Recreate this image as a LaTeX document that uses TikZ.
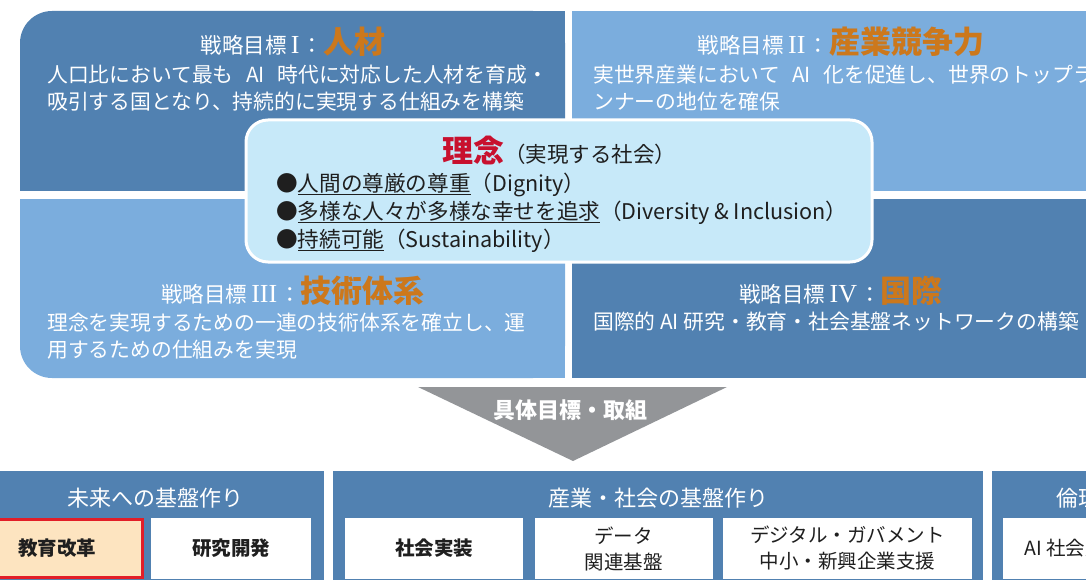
\documentclass[tikz,border=0pt]{standalone}
\usepackage{fontspec}
\setmainfont{Noto Sans CJK JP}
\newfontfamily\romanfont{Liberation Serif}
\usetikzlibrary{positioning}

\definecolor{deepblue}{RGB}{81,129,177}
\definecolor{paleblue}{RGB}{123,173,221}
\definecolor{ideabg}{RGB}{199,233,249}
\definecolor{goalorange}{RGB}{204,120,28}
\definecolor{ideared}{RGB}{200,16,46}
\definecolor{arrowgray}{RGB}{147,149,152}
\definecolor{edupeach}{RGB}{253,228,192}
\definecolor{edured}{RGB}{226,30,40}

\newcommand\goalword[1]{{\fontsize{31}{31}\selectfont\bfseries\color{goalorange}#1}}
\newcommand\goalnum[1]{\hspace{0.2em}{\romanfont\fontsize{26}{26}\selectfont #1}\hspace{0.1em}}
\newcommand\wsp{\hspace{0.6em}}

\begin{document}
\begin{tikzpicture}[x=1pt, y=-1pt, inner sep=0pt,
  title node/.style={text=white, font=\fontsize{21.5}{25}\selectfont},
  desc node/.style={text=white, anchor=base west, align=left, font=\fontsize{20.8}{27}\selectfont},
  bullet node/.style={anchor=base west, text=black!88, font=\fontsize{21.6}{25}\selectfont},
  head node/.style={text=white, font=\fontsize{22}{25}\selectfont},
  item box/.style={fill=white, text=black!88, minimum height=61pt, align=center, font=\fontsize{19.5}{26}\selectfont}]
	\clip (0,0) rectangle (1086,580);

	% four goals
	\fill[deepblue, rounded corners=32pt] (20,11) rectangle (565,191);
	\fill[deepblue] (60,11) rectangle (565,191);
	\fill[deepblue] (20,60) rectangle (565,191);
	\fill[paleblue] (572,11) rectangle (1120,191);
	\fill[paleblue, rounded corners=32pt] (20,199) rectangle (565,378);
	\fill[paleblue] (60,199) rectangle (565,378);
	\fill[paleblue] (20,199) rectangle (565,340);
	\fill[deepblue] (572,199) rectangle (1120,378);

	\node[title node] (goal1) at (293,42) {戦略目標\goalnum{I}：\goalword{人材}};
	\node[desc node] (desc1) at (47,110) {人口比において最も\wsp AI\wsp 時代に対応した人材を育成・\\吸引する国となり、持続的に実現する仕組みを構築};
	\node[title node] (goal2) at (841,42) {戦略目標\goalnum{II}：\goalword{産業競争力}};
	\node[desc node] (desc2) at (593,110) {実世界産業において\wsp AI\wsp 化を促進し、世界のトップラ\\ンナーの地位を確保};
	\node[title node] (goal3) at (293,291) {戦略目標\goalnum{III}：\goalword{技術体系}};
	\node[desc node] (desc3) at (47,357) {理念を実現するための一連の技術体系を確立し、運\\用するための仕組みを実現};
	\node[title node] (goal4) at (841,291) {戦略目標\goalnum{IV}：\goalword{国際}};
	\node[desc node] (desc4) at (593,329) {国際的 AI 研究・教育・社会基盤ネットワークの構築};

	% idea
	\node[draw=white, line width=3pt, fill=ideabg, rounded corners=22pt, minimum width=626pt, minimum height=142pt] (idea) at (559,191) {};
	\node[font=\fontsize{21.5}{24}\selectfont, text=black!88] (ideatitle) at (559,150) {{\fontsize{31}{31}\selectfont\bfseries\color{ideared}理念}（実現する社会）};
	\node[bullet node] (dignity) at (276,191) {●\underline{人間の尊厳の尊重}（Dignity）};
	\node[bullet node] (diversity) at (276,219) {●\underline{多様な人々が多様な幸せを追求}（Diversity \& Inclusion）};
	\node[bullet node] (sustain) at (276,247) {●\underline{持続可能}（Sustainability）};

	% arrow
	\fill[arrowgray] (418,387) -- (727,387) -- (573,461) -- cycle;
	\node[text=white, font=\fontsize{22}{25}\selectfont\bfseries] (steps) at (570,410) {具体目標・取組};

	% bottom row
	\fill[deepblue] (-5,471) rectangle (324,590);
	\fill[deepblue] (333,471) rectangle (983,590);
	\fill[deepblue] (992,471) rectangle (1160,590);
	\node[head node] (future) at (155,498) {未来への基盤作り};
	\node[head node] (industry) at (658,498) {産業・社会の基盤作り};
	\node[head node] (ethics) at (1078,498) {倫理};
	\node[item box, fill=edupeach, draw=edured, line width=3pt, minimum width=170pt, minimum height=58pt, font=\fontsize{19.5}{26}\selectfont\bfseries] (edu) at (57,548.5) {教育改革};
	\node[item box, minimum width=160pt, font=\fontsize{19.5}{26}\selectfont\bfseries] (research) at (231,548.5) {研究開発};
	\node[item box, minimum width=178pt, font=\fontsize{19.5}{26}\selectfont\bfseries] (deploy) at (434,548.5) {社会実装};
	\node[item box, minimum width=178pt] (data) at (623.5,548.5) {データ\\関連基盤};
	\node[item box, minimum width=249pt] (govt) at (847.5,548.5) {デジタル・ガバメント\\中小・新興企業支援};
	\node[item box, minimum width=143pt] (principle) at (1074.5,548.5) {AI 社会原則};
\end{tikzpicture}
\end{document}
